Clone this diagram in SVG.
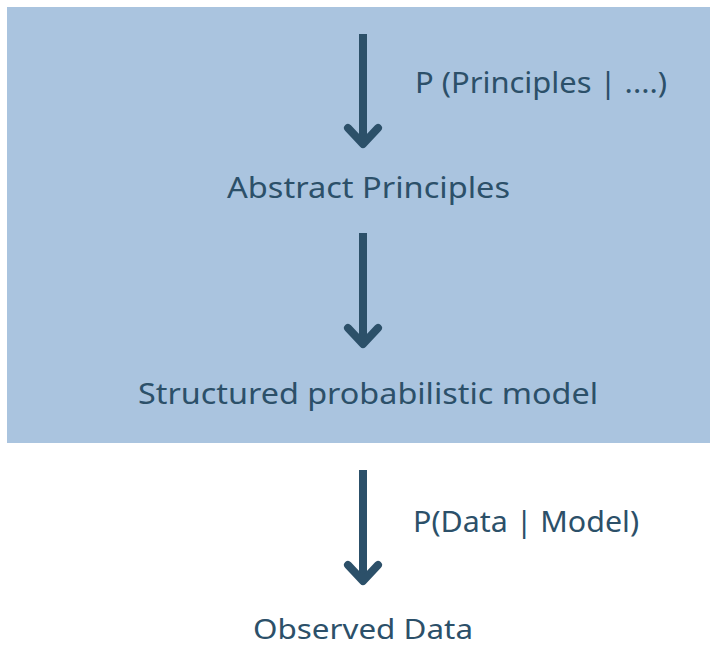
<svg xmlns="http://www.w3.org/2000/svg" width="710" height="647" viewBox="0 0 710 647">
<style>
.t{font-family:"Noto Sans","Open Sans",sans-serif;font-size:29px;fill:#2c5069;}
.shaft{stroke:#2c5069;stroke-width:8;fill:none;}
.head{stroke:#2c5069;stroke-width:8;fill:none;stroke-linecap:round;stroke-linejoin:round;}
</style>
<rect width="710" height="647" fill="#ffffff"/>
<rect id="bg" x="7" y="7" width="703" height="436" fill="#aac4df"/>
<g id="connectors">
<line class="shaft" x1="363" y1="34" x2="363" y2="144"/>
<polyline class="head" points="348,128 363,144 378,128"/>
<line class="shaft" x1="363" y1="233" x2="363" y2="344"/>
<polyline class="head" points="348,328 363,344 378,328"/>
<line class="shaft" x1="363" y1="470" x2="363" y2="581"/>
<polyline class="head" points="348,565 363,581 378,565"/>
</g>
<g id="label-p-principles"><text class="t" x="415" y="93" textLength="252" lengthAdjust="spacingAndGlyphs">P (Principles | ....)</text></g>
<g id="node-abstract"><text class="t" x="227" y="198" textLength="283" lengthAdjust="spacingAndGlyphs">Abstract Principles</text></g>
<g id="node-structured"><text class="t" x="138" y="404" textLength="460" lengthAdjust="spacingAndGlyphs">Structured probabilistic model</text></g>
<g id="label-p-data"><text class="t" x="413" y="532" textLength="226" lengthAdjust="spacingAndGlyphs">P(Data | Model)</text></g>
<g id="node-observed"><text class="t" x="253" y="639" style="font-size:28px" textLength="220" lengthAdjust="spacingAndGlyphs">Observed Data</text></g>
</svg>
